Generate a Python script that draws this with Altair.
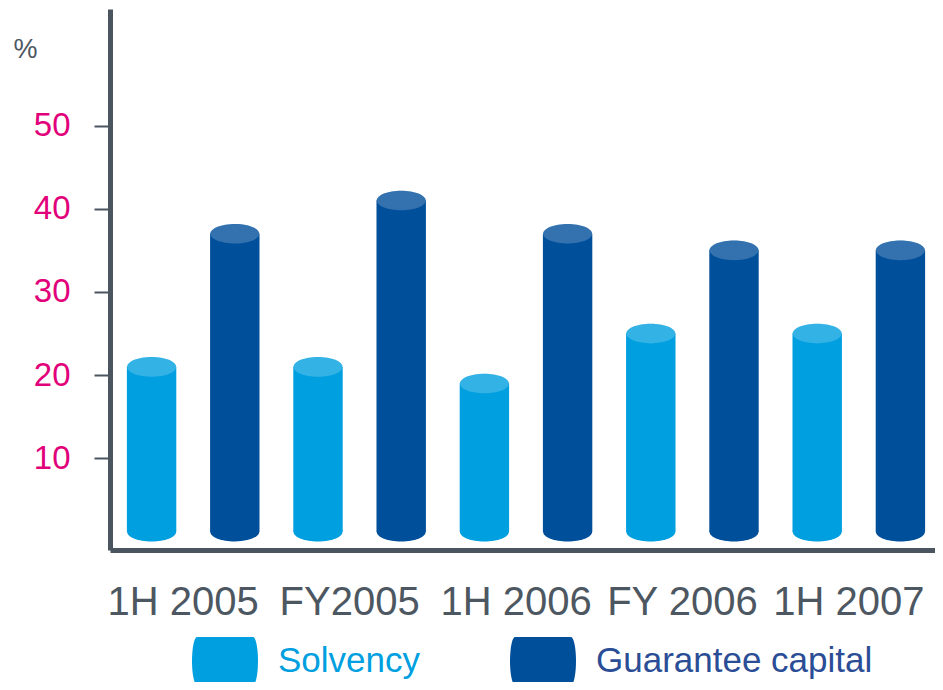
import altair as alt
import pandas as pd

# ---- data ----
periods = ["1H 2005", "FY2005", "1H 2006", "FY 2006", "1H 2007"]
series = ["Solvency", "Guarantee capital"]
solvency = [21, 21, 19, 25, 25]
guarantee = [37, 41, 37, 35, 35]
y_ticks = [10, 20, 30, 40, 50]

# ---- styling ----
body_colors = ["#009FE0", "#004F9B"]
label_colors = ["#009FE0", "#2A4D96"]
AXIS_COLOR = "#4B5560"
TEXT_GRAY = "#4D5761"
MAGENTA = "#E2007A"
FONT = "Arial, Liberation Sans, sans-serif"
BAR_W = 49
BASE = 1.2  # centre of the cylinder's bottom face (value units)

ELLIPSE = ("M -1 0 C -1 -0.2209 -0.5523 -0.4 0 -0.4 C 0.5523 -0.4 1 -0.2209 1 0 "
           "C 1 0.2209 0.5523 0.4 0 0.4 C -0.5523 0.4 -1 0.2209 -1 0 Z")
CYL = ("M -0.85 -0.727 L 0.85 -0.727 C 0.93 -0.727 1 -0.4 1 0 C 1 0.4 0.93 0.727 0.85 0.727 "
       "L -0.85 0.727 C -0.93 0.727 -1 0.4 -1 0 C -1 -0.4 -0.93 -0.727 -0.85 -0.727 Z")

rows = []
for p, s, g in zip(periods, solvency, guarantee):
    rows.append({"period": p, "series": series[0], "value": s})
    rows.append({"period": p, "series": series[1], "value": g})
df = pd.DataFrame(rows)

x = alt.X(
    "period:N", sort=periods,
    scale=alt.Scale(paddingInner=0, paddingOuter=0, range=[0, 832]),
    axis=alt.Axis(
        title=None, ticks=False, grid=False,
        domainColor=AXIS_COLOR, domainWidth=5,
        labelFont=FONT, labelFontSize=40, labelColor=TEXT_GRAY,
        labelPadding=32, labelAngle=0, labelOffset=-10, labelOverlap=False,
        labelLimit=300,
    ),
)
xo = alt.XOffset(
    "series:N", sort=series,
    scale=alt.Scale(paddingInner=0.40606, paddingOuter=0.20303),
)
y = alt.Y(
    "value:Q",
    scale=alt.Scale(domain=[-1.0, 64.0], nice=False, zero=False),
    axis=alt.Axis(
        values=y_ticks, grid=False,
        domainColor=AXIS_COLOR, domainWidth=5,
        tickColor=AXIS_COLOR, tickWidth=2, tickSize=16,
        labelFont=FONT, labelFontSize=33, labelColor=MAGENTA, labelPadding=24,
        title="%", titleAngle=0, titleX=-97, titleY=48, titleAlign="left",
        titleBaseline="alphabetic", titleFont=FONT, titleFontSize=27,
        titleFontWeight="normal", titleColor=TEXT_GRAY,
    ),
)
color = alt.Color(
    "series:N", sort=series,
    scale=alt.Scale(domain=series, range=body_colors),
    legend=alt.Legend(
        orient="none", legendX=82, legendY=619, direction="horizontal",
        columns=2, title=None, padding=0, rowPadding=0, columnPadding=89,
        symbolType=CYL, symbolSize=4356, symbolStrokeWidth=0, symbolOpacity=1,
        labelFont=FONT, labelFontSize=35, labelOffset=20, labelLimit=400,
        labelColor={"expr": "datum.value == 'Solvency' ? '%s' : '%s'" % tuple(label_colors)},
    ),
)

base = alt.Chart(df)

bodies = base.mark_bar().encode(x=x, xOffset=xo, y=y, y2=alt.datum(BASE), color=color)
bottoms = base.mark_point(shape=ELLIPSE, filled=True, opacity=1, strokeWidth=0,
                          size=BAR_W * BAR_W).encode(
    x=x, xOffset=xo, y=alt.datum(BASE), color=color)
tops = base.mark_point(shape=ELLIPSE, filled=True, opacity=1, strokeWidth=0,
                       size=BAR_W * BAR_W).encode(x=x, xOffset=xo, y=y, color=color)
highlights = base.mark_point(shape=ELLIPSE, filled=True, strokeWidth=0,
                             size=BAR_W * BAR_W).encode(
    x=x, xOffset=xo, y=y, color=alt.value("#FFFFFF"), opacity=alt.value(0.2))

chart = alt.layer(bodies, bottoms, tops, highlights).properties(
    width=825, height=541,
    autosize=alt.AutoSizeParams(type="none"),
    padding={"left": 102, "top": 1, "right": 0, "bottom": 132},
).configure_view(stroke=None)

chart.save("out.html", embed_options={"renderer": "svg", "actions": False})
